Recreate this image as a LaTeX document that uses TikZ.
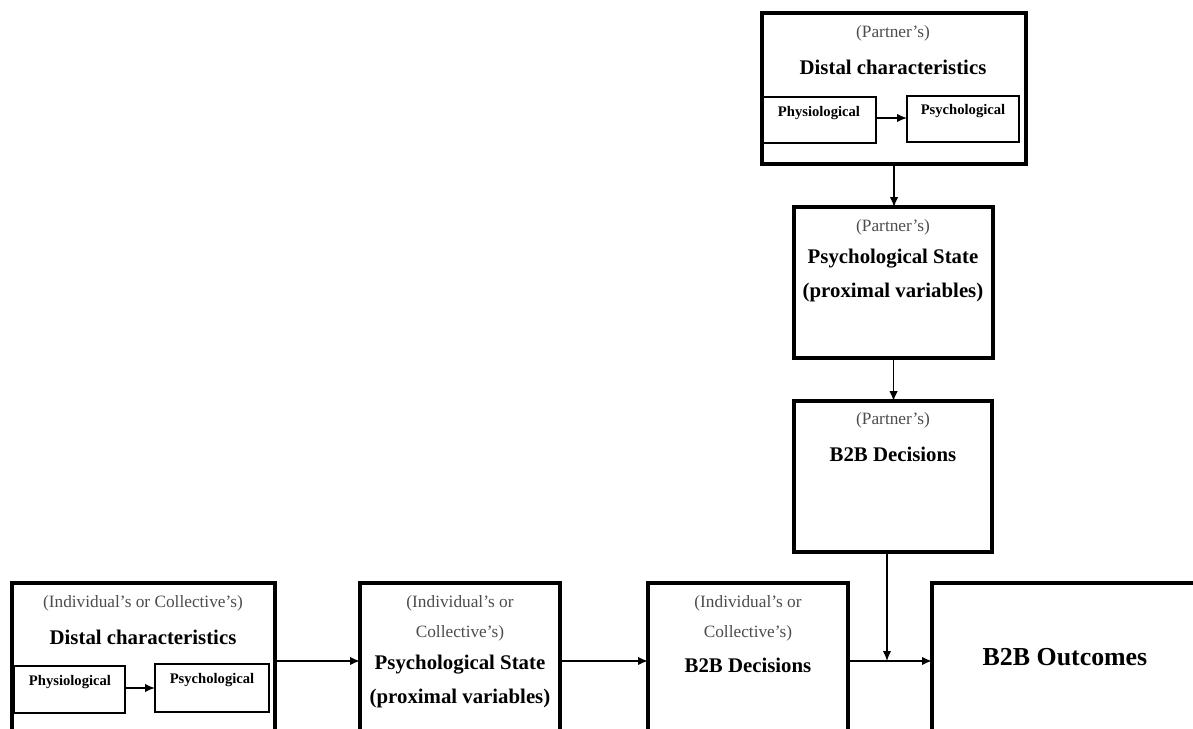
\documentclass[tikz,border=0pt]{standalone}
\usepackage{fontspec}
\setmainfont{Liberation Serif}
\usetikzlibrary{arrows.meta}
\begin{document}
\begin{tikzpicture}[x=0.025cm,y=-0.025cm,
	bigbox/.style={draw,line width=2.8pt,anchor=north west,inner sep=0pt,outer sep=0pt},
	smallbox/.style={draw,line width=.9pt,anchor=north west,inner sep=0pt,outer sep=0pt},
	who/.style={font=\fontsize{12.3}{14}\selectfont,text=black!70},
	head/.style={font=\fontsize{14.8}{17}\selectfont\bfseries},
	sub/.style={font=\fontsize{10.4}{12}\selectfont\bfseries},
	link/.style={line width=1.6pt,-{Latex[length=7pt,width=6pt]}},
	thinlink/.style={line width=1.1pt,-{Latex[length=7pt,width=6pt]}}]
		\path[use as bounding box,clip] (0,0) rectangle (1193,729);
		%=========== partner, from top to bottom===========================
		\node[bigbox,minimum width=6.6cm,minimum height=3.775cm] (pdist) at (762,13) {};
		\node[who] (pdist-who) at (893,33) {(Partner's)};
		\node[head] (pdist-head) at (893,67) {Distal characteristics};
		\node[smallbox,minimum width=2.825cm,minimum height=1.15cm] (pphys) at (763,97) {};
		\node[smallbox,minimum width=2.8cm,minimum height=1.15cm] (ppsy) at (907,96) {};
		\node[sub] (pphys-txt) at (819,113) {Physiological};
		\node[sub] (ppsy-txt) at (963,111) {Psychological};
		\node[bigbox,minimum width=4.975cm,minimum height=3.775cm] (pstate) at (794,207) {};
		\node[who] (pstate-who) at (893,227) {(Partner's)};
		\node[head] (pstate-head) at (893,259) {Psychological State};
		\node[head] (pstate-prox) at (893,292) {(proximal variables)};
		\node[bigbox,minimum width=4.95cm,minimum height=3.775cm] (pdec) at (794,401) {};
		\node[who] (pdec-who) at (893,420) {(Partner's)};
		\node[head] (pdec-head) at (893,454) {B2B Decisions};
		%=========== individual or collective, from left to right===========================
		\node[bigbox,minimum width=6.575cm,minimum height=4.425cm] (idist) at (12,583) {};
		\node[who] (idist-who) at (143,603) {(Individual's or Collective's)};
		\node[head] (idist-head) at (143,637) {Distal characteristics};
		\node[smallbox,minimum width=2.775cm,minimum height=1.175cm] (iphys) at (14,666) {};
		\node[smallbox,minimum width=2.85cm,minimum height=1.2cm] (ipsy) at (155,664) {};
		\node[sub] (iphys-txt) at (70,682) {Physiological};
		\node[sub] (ipsy-txt) at (212,680) {Psychological};
		\node[bigbox,minimum width=5cm,minimum height=4.425cm] (istate) at (360,583) {};
		\node[who] (istate-who) at (460,603) {(Individual's or};
		\node[who] (istate-coll) at (460,633) {Collective's)};
		\node[head] (istate-head) at (460,665) {Psychological State};
		\node[head] (istate-prox) at (460,698) {(proximal variables)};
		\node[bigbox,minimum width=5cm,minimum height=4.425cm] (idec) at (648,583) {};
		\node[who] (idec-who) at (748,603) {(Individual's or};
		\node[who] (idec-coll) at (748,633) {Collective's)};
		\node[head] (idec-head) at (748,665) {B2B Decisions};
		\node[bigbox,minimum width=7.5cm,minimum height=4.425cm] (outc) at (932,583) {};
		\node[font=\fontsize{18.4}{21}\selectfont\bfseries] (outc-head) at (1065,657) {B2B Outcomes};
		%=========== connectors ===========================
		\coordinate (row) at (0,661);
		\coordinate (join) at (887,661);
		\draw[thinlink] (pphys.east |- 0,118) -- (ppsy.west |- 0,118);
		\draw[thinlink] (iphys.east |- 0,688) -- (ipsy.west |- 0,688);
		\draw[thinlink] (pdist.south) -- (pdist.south |- pstate.north);
		\draw[thinlink] (pstate.south) -- (pstate.south |- pdec.north);
		\draw[thinlink] (pdec.south -| join) -- (join);
		\draw[link] (idist.east |- row) -- (istate.west |- row);
		\draw[link] (istate.east |- row) -- (idec.west |- row);
		\draw[link] (idec.east |- row) -- (outc.west |- row);
	\end{tikzpicture}
\end{document}
